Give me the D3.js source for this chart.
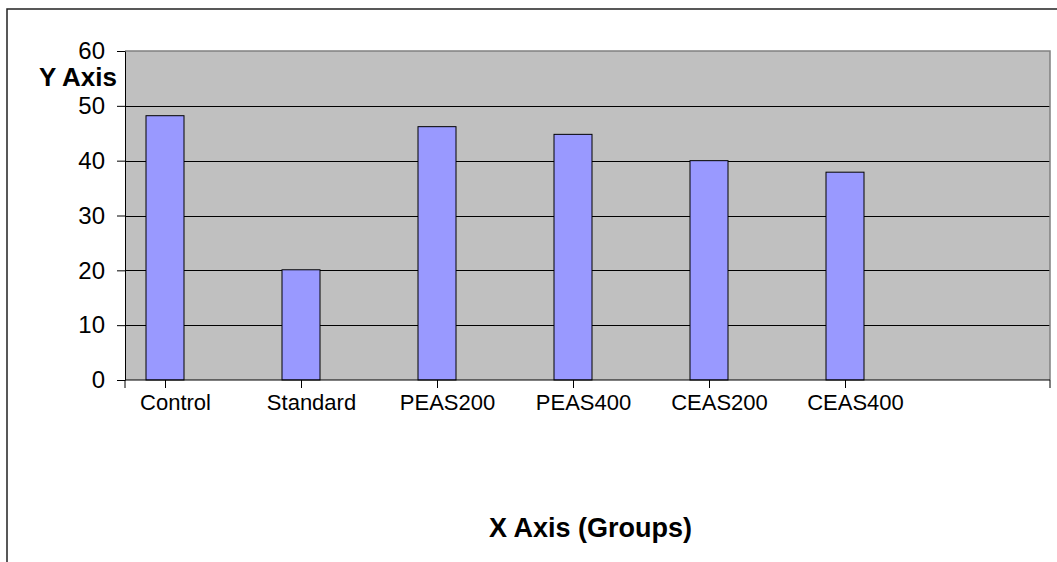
<!DOCTYPE html>
<html><head><meta charset="utf-8">
<script src="https://cdn.jsdelivr.net/npm/d3@7"></script>
<style>html,body{margin:0;padding:0;background:#fff;} svg{display:block;font-family:"Liberation Sans",Arial,Helvetica,sans-serif;}</style>
</head><body><svg id="chart" width="1057" height="562"></svg>
<script>
const categories = ["Control","Standard","PEAS200","PEAS400","CEAS200","CEAS400"];
const values = [48.2, 20.1, 46.2, 44.8, 40.0, 37.9];
const yTicks = [0,10,20,30,40,50,60];
const yTitle = "Y Axis";
const xTitle = "X Axis (Groups)";

const svg = d3.select("#chart");
const plot = {left:125, right:1050, top:51, bottom:380};
const y = d3.scaleLinear().domain([0,60]).range([plot.bottom, plot.top]);
const x = d3.scalePoint().domain(categories).range([165, 845]);
const barW = 38;

// outer frame
svg.append("path").attr("d", "M7,562V9H1057").attr("fill","none").attr("stroke","#222").attr("stroke-width",1.5);

// plot background
svg.append("rect").attr("x",plot.left).attr("y",plot.top)
  .attr("width",plot.right-plot.left).attr("height",plot.bottom-plot.top).attr("fill","#c0c0c0");

// gridlines
svg.append("g").selectAll("line").data(yTicks.filter(t=>t>0 && t<60)).join("line")
  .attr("x1",plot.left).attr("x2",plot.right)
  .attr("y1",d=>Math.round(y(d))+0.5).attr("y2",d=>Math.round(y(d))+0.5)
  .attr("stroke","#000").attr("stroke-width",1);

// plot border top/right
svg.append("path").attr("d",`M${plot.left},${plot.top}H${plot.right}V${plot.bottom}`)
  .attr("fill","none").attr("stroke","#808080").attr("stroke-width",1.5);

// bars
svg.append("g").selectAll("rect").data(categories).join("rect")
  .attr("x",(d)=>x(d)-barW/2)
  .attr("y",(d,i)=>y(values[i]))
  .attr("width",barW)
  .attr("height",(d,i)=>y(0)-y(values[i]))
  .attr("fill","#9999ff").attr("stroke","#000").attr("stroke-width",1);

// y axis
const ya = svg.append("g").attr("transform",`translate(${plot.left},0)`)
  .call(d3.axisLeft(y).tickValues(yTicks).tickSize(8).tickSizeOuter(0).tickPadding(12));
ya.select(".domain").attr("stroke","#000");
ya.selectAll(".tick line").attr("stroke","#000");
ya.selectAll("text").attr("font-size",24).attr("font-family","Liberation Sans, Arial, sans-serif").attr("fill","#000");

// x axis
const xa = svg.append("g").attr("transform",`translate(0,${plot.bottom})`)
  .call(d3.axisBottom(x).tickSize(8).tickSizeOuter(0).tickPadding(6));
xa.select(".domain").remove();
xa.selectAll(".tick line").attr("stroke","#000");
xa.selectAll("text").attr("font-size",22).attr("font-family","Liberation Sans, Arial, sans-serif")
  .attr("fill","#000").attr("dx",10);
xa.append("line").attr("x1",plot.left).attr("x2",plot.right).attr("y1",0).attr("y2",0).attr("stroke","#000");
xa.selectAll(".endtick").data([plot.left, plot.right]).join("line").attr("class","endtick")
  .attr("x1",d=>d).attr("x2",d=>d).attr("y1",0).attr("y2",8).attr("stroke","#000");

// titles
svg.append("text").attr("x",117).attr("y",85.5).attr("text-anchor","end")
  .attr("font-size",26).attr("font-weight","bold").attr("fill","#000").text(yTitle);
svg.append("text").attr("x",590.5).attr("y",537).attr("text-anchor","middle")
  .attr("font-size",27).attr("font-weight","bold").attr("fill","#000").text(xTitle);
</script>
</body></html>
